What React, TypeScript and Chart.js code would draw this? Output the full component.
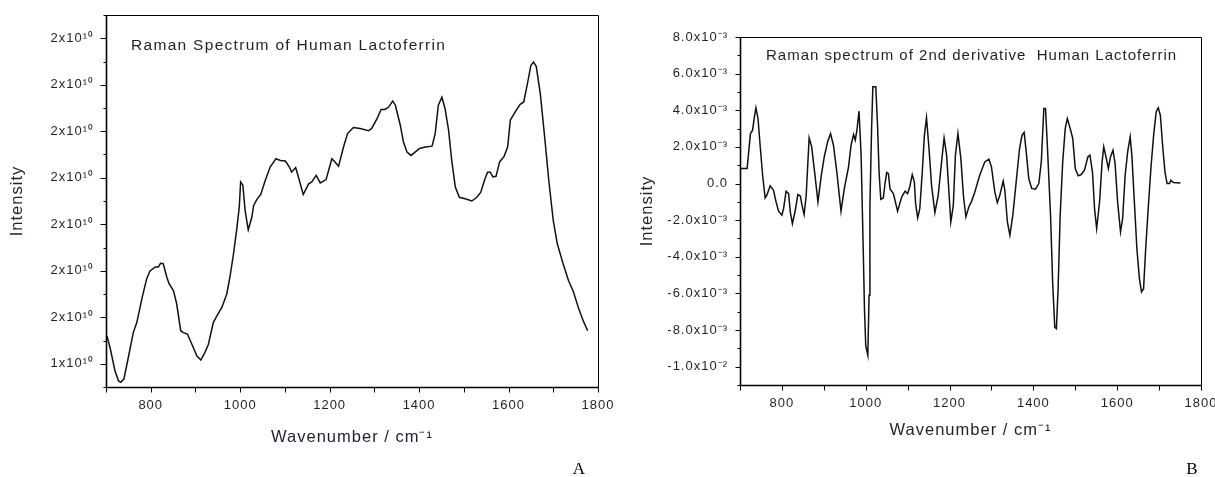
import React, { useEffect, useRef } from "react";
import { Chart, registerables } from "chart.js";

Chart.register(...registerables);

// ---------- Panel A: Raman spectrum (intensity in units of 1e10) ----------
const wavenumbersA = [
  702, 709, 720, 728, 733, 740, 750, 761, 769, 780, 791, 798, 810, 817, 822, 828, 836, 841, 851, 858,
  867, 873, 882, 892, 903, 912, 921, 929, 940, 948, 959, 970, 977, 985, 992, 998, 1001, 1006, 1011, 1018,
  1026, 1030, 1037, 1046, 1056, 1067, 1080, 1090, 1101, 1110, 1115, 1124, 1130, 1141, 1153, 1160, 1170, 1179, 1192, 1205,
  1212, 1220, 1231, 1240, 1253, 1268, 1287, 1294, 1306, 1315, 1324, 1332, 1341, 1347, 1358, 1365, 1373, 1382, 1391, 1401,
  1414, 1429, 1436, 1443, 1451, 1458, 1466, 1473, 1481, 1490, 1503, 1518, 1529, 1538, 1546, 1553, 1559, 1565, 1572, 1580,
  1590, 1598, 1604, 1617, 1626, 1634, 1643, 1650, 1656, 1662, 1671, 1680, 1690, 1700, 1709, 1722, 1734, 1745, 1757, 1768,
  1777,
];
const intensityA = [
  1.46, 1.435, 1.385, 1.363, 1.36, 1.367, 1.414, 1.467, 1.489, 1.539, 1.583, 1.599, 1.608, 1.608, 1.616, 1.615, 1.586, 1.572, 1.557, 1.529,
  1.471, 1.467, 1.464, 1.442, 1.417, 1.408, 1.424, 1.442, 1.489, 1.503, 1.521, 1.55, 1.586, 1.636, 1.687, 1.737, 1.791, 1.784, 1.73, 1.688,
  1.715, 1.74, 1.753, 1.764, 1.794, 1.823, 1.841, 1.837, 1.836, 1.823, 1.812, 1.822, 1.802, 1.764, 1.787, 1.791, 1.805, 1.789, 1.796, 1.841,
  1.834, 1.825, 1.866, 1.895, 1.908, 1.906, 1.901, 1.906, 1.927, 1.947, 1.947, 1.952, 1.965, 1.956, 1.913, 1.877, 1.855, 1.848, 1.855, 1.863,
  1.866, 1.868, 1.895, 1.956, 1.973, 1.949, 1.902, 1.837, 1.78, 1.758, 1.755, 1.75, 1.758, 1.769, 1.794, 1.812, 1.812, 1.802, 1.803, 1.834,
  1.846, 1.866, 1.924, 1.945, 1.958, 1.963, 2.006, 2.042, 2.049, 2.039, 1.981, 1.895, 1.794, 1.708, 1.658, 1.615, 1.579, 1.555, 1.518, 1.49,
  1.471,
];

// ---------- Panel B: 2nd derivative (units of 1e-3) ----------
const wavenumbersB = [
  702, 717, 720, 725, 730, 735, 738, 743, 748, 754, 760, 764, 772, 780, 786, 792, 800, 804, 810, 816,
  820, 825, 832, 838, 844, 848, 853, 858, 862, 865, 871, 878, 886, 894, 901, 909, 916, 923, 931, 941,
  949, 959, 965, 971, 975, 979, 984, 989, 994, 997, 1000, 1005, 1008, 1010, 1014, 1017, 1024, 1028, 1032, 1036,
  1042, 1046, 1050, 1054, 1058, 1066, 1076, 1086, 1094, 1100, 1105, 1111, 1116, 1119, 1124, 1129, 1135, 1140, 1145, 1151,
  1157, 1165, 1173, 1181, 1187, 1193, 1198, 1203, 1209, 1214, 1220, 1227, 1233, 1239, 1246, 1252, 1260, 1272, 1284, 1294,
  1300, 1308, 1314, 1320, 1328, 1332, 1338, 1344, 1351, 1359, 1367, 1373, 1378, 1383, 1389, 1396, 1405, 1413, 1419, 1425,
  1429, 1433, 1441, 1446, 1451, 1455, 1459, 1464, 1470, 1476, 1481, 1488, 1494, 1500, 1507, 1514, 1522, 1530, 1535, 1541,
  1546, 1551, 1558, 1564, 1568, 1574, 1579, 1584, 1590, 1595, 1601, 1608, 1613, 1619, 1625, 1631, 1635, 1641, 1647, 1653,
  1658, 1663, 1668, 1674, 1681, 1687, 1693, 1698, 1703, 1709, 1714, 1719, 1725, 1728, 1734, 1751,
];
const derivativeB = [
  0.82, 0.82, 1.55, 2.73, 2.91, 3.73, 4.13, 3.55, 2.09, 0.45, -0.79, -0.64, -0.13, -0.37, -1.0, -1.51, -1.73, -1.37, -0.42, -0.55,
  -1.55, -2.19, -1.46, -0.6, -0.68, -1.19, -1.69, -0.64, 1.18, 2.49, 2.0, 0.64, -1.0, 0.45, 1.45, 2.27, 2.73, 2.09, 0.64, -1.51,
  -0.27, 0.91, 2.09, 2.68, 2.37, 2.91, 3.95, 1.55, -3.55, -6.83, -8.84, -9.38, -6.1, -1.19, 3.0, 5.28, 5.28, 3.28, 0.55, -0.86,
  -0.79, 0.0, 0.6, 0.55, -0.3, -0.55, -1.51, -0.73, -0.42, -0.55, -0.18, 0.49, 0.09, -1.09, -1.88, -1.37, 0.64, 2.64, 3.59, 1.91,
  -0.09, -1.59, -0.64, 1.18, 2.49, 1.55, -0.27, -2.1, -1.19, 1.55, 2.73, 1.37, -0.64, -1.82, -1.28, -1.0, -0.49, 0.45, 1.18, 1.33,
  0.91, -0.46, -1.04, -0.64, 0.13, -0.37, -2.1, -2.82, -1.73, 0.09, 1.91, 2.64, 2.79, 1.73, 0.27, -0.27, -0.31, 0.0, 1.2, 4.1,
  4.1, 2.27, -1.73, -5.38, -7.84, -7.92, -5.74, -1.73, 1.18, 3.0, 3.55, 3.0, 2.46, 0.82, 0.42, 0.49, 0.73, 1.45, 1.55, 0.64,
  -1.37, -2.46, -1.0, 1.18, 2.0, 1.37, 0.82, 1.45, 1.82, 1.09, -1.0, -2.64, -1.91, 0.45, 1.73, 2.55, 1.55, -1.0, -3.55, -5.19,
  -5.92, -5.74, -3.55, -1.37, 1.0, 2.64, 3.91, 4.13, 3.73, 1.91, 0.64, 0.0, 0.0, 0.18, 0.05, 0.03,
];

// ---------- Axis ticks and labels ----------
const xMajorTicks = [800, 1000, 1200, 1400, 1600, 1800];
const xMinorTicks = [700, 900, 1100, 1300, 1500, 1700];
const xTickLabels = ["800", "1000", "1200", "1400", "1600", "1800"];

const yMajorTicksA = [1.4, 1.5, 1.6, 1.7, 1.8, 1.9, 2.0, 2.1];
const yMinorTicksA = [1.35, 1.45, 1.55, 1.65, 1.75, 1.85, 1.95, 2.05, 2.15];
const yTickLabelsA = ["1x10¹⁰", "2x10¹⁰", "2x10¹⁰", "2x10¹⁰", "2x10¹⁰", "2x10¹⁰", "2x10¹⁰", "2x10¹⁰"];

const yMajorTicksB = [8, 6, 4, 2, 0, -2, -4, -6, -8, -10];
const yMinorTicksB = [7, 5, 3, 1, -1, -3, -5, -7, -9, -11];
const yTickLabelsB = [
  "8.0x10⁻³", "6.0x10⁻³", "4.0x10⁻³", "2.0x10⁻³", "0.0",
  "-2.0x10⁻³", "-4.0x10⁻³", "-6.0x10⁻³", "-8.0x10⁻³", "-1.0x10⁻²",
];

const titleA = "Raman Spectrum of Human Lactoferrin";
const titleB = "Raman spectrum of 2nd derivative  Human Lactoferrin";
const xAxisTitle = "Wavenumber / cm⁻¹";
const yAxisTitle = "Intensity";

const SANS = "'Liberation Sans', Arial, Helvetica, sans-serif";
const SERIF = "'Liberation Serif', 'Times New Roman', serif";
const TEXT_COLOR = "#1f1f2e";

type PanelSpec = {
  left: number;
  width: number;
  height: number;
  xs: number[];
  ys: number[];
  yMin: number;
  yMax: number;
  yMajor: number[];
  yMinor: number[];
  yLabels: string[];
  yAxisWidth: number;
  xAxisHeight: number;
  padTop: number;
  padRight: number;
  yTickLen: number;
  yLabelPad: number;
  yTitlePad: number;
  xTitlePad: number;
  title: string;
  titleX: number;
  titleY: number;
  titleSize: number;
  titleSpacing: number;
  panelLabel: string;
  panelLabelX: number;
};

const panels: PanelSpec[] = [
  {
    left: 0, width: 615, height: 477,
    xs: wavenumbersA, ys: intensityA,
    yMin: 1.35, yMax: 2.15,
    yMajor: yMajorTicksA, yMinor: yMinorTicksA, yLabels: yTickLabelsA,
    yAxisWidth: 106, xAxisHeight: 90, padTop: 15, padRight: 17,
    yTickLen: 6, yLabelPad: 6, yTitlePad: 7.5, xTitlePad: 29.5,
    title: titleA, titleX: 131, titleY: 49.5, titleSize: 15.5, titleSpacing: 1.3,
    panelLabel: "A", panelLabelX: 579,
  },
  {
    left: 615, width: 600, height: 477,
    xs: wavenumbersB, ys: derivativeB,
    yMin: -11, yMax: 8,
    yMajor: yMajorTicksB, yMinor: yMinorTicksB, yLabels: yTickLabelsB,
    yAxisWidth: 125, xAxisHeight: 92, padTop: 37, padRight: 14,
    yTickLen: 5, yLabelPad: 7, yTitlePad: 22.5, xTitlePad: 36.5,
    title: titleB, titleX: 151, titleY: 59.5, titleSize: 15, titleSpacing: 1.0,
    panelLabel: "B", panelLabelX: 577,
  },
];

function findLabel(ticks: number[], labels: string[], v: number): string {
  const i = ticks.findIndex((t) => Math.abs(t - v) < 1e-9);
  return i >= 0 ? labels[i] : "";
}

function makeDecorPlugin(p: PanelSpec) {
  return {
    id: "decor" + p.panelLabel,
    beforeUpdate(chart: any) {
      (chart.ctx as any).letterSpacing = "1px";
    },
    beforeDraw(chart: any) {
      (chart.ctx as any).letterSpacing = "1px";
    },
    afterDraw(chart: any) {
      const ctx = chart.ctx as CanvasRenderingContext2D;
      const ca = chart.chartArea;
      const xs = chart.scales.x;
      const ys = chart.scales.y;
      ctx.save();
      ctx.strokeStyle = "#000";
      ctx.lineWidth = 1;
      const L = Math.round(ca.left) + 0.5;
      const T = Math.round(ca.top) + 0.5;
      const R = Math.round(ca.right) + 0.5;
      const B = Math.round(ca.bottom) + 0.5;
      ctx.beginPath();
      ctx.rect(L, T, R - L, B - T);
      ctx.stroke();
      // slightly heavier left and bottom axes
      ctx.lineWidth = 1.6;
      ctx.beginPath();
      ctx.moveTo(L, T);
      ctx.lineTo(L, B);
      ctx.lineTo(R, B);
      ctx.stroke();
      ctx.lineWidth = 1;
      ctx.beginPath();
      for (const v of [...xMajorTicks, ...xMinorTicks]) {
        const px = Math.round(xs.getPixelForValue(v)) + 0.5;
        ctx.moveTo(px, B);
        ctx.lineTo(px, B + 5);
      }
      for (const v of p.yMajor) {
        const py = Math.round(ys.getPixelForValue(v)) + 0.5;
        ctx.moveTo(L, py);
        ctx.lineTo(L - p.yTickLen, py);
      }
      for (const v of p.yMinor) {
        const py = Math.round(ys.getPixelForValue(v)) + 0.5;
        ctx.moveTo(L, py);
        ctx.lineTo(L - 3, py);
      }
      ctx.stroke();

      (ctx as any).letterSpacing = p.titleSpacing + "px";
      ctx.fillStyle = TEXT_COLOR;
      ctx.font = `${p.titleSize}px ${SANS}`;
      ctx.textAlign = "left";
      ctx.textBaseline = "alphabetic";
      ctx.fillText(p.title, p.titleX, p.titleY);

      (ctx as any).letterSpacing = "0px";
      ctx.fillStyle = "#000";
      ctx.font = `17px ${SERIF}`;
      ctx.textAlign = "center";
      ctx.fillText(p.panelLabel, p.panelLabelX, 474);
      ctx.restore();
    },
  };
}

function buildConfig(p: PanelSpec): any {
  const points = p.xs.map((x, i) => ({ x, y: p.ys[i] }));
  const tickFont = { family: SANS, size: 13 };
  const titleFont = { family: SANS, size: 16.5 };
  return {
    type: "line",
    data: {
      datasets: [
        {
          data: points,
          borderColor: "#111",
          borderWidth: 1.5,
          pointRadius: 0,
          tension: 0,
          fill: false,
        },
      ],
    },
    options: {
      responsive: false,
      animation: false,
      events: [],
      layout: { padding: { left: 0, right: p.padRight, top: p.padTop, bottom: 0 } },
      plugins: { legend: { display: false }, tooltip: { enabled: false } },
      scales: {
        x: {
          type: "linear",
          min: 700,
          max: 1800,
          afterBuildTicks: (s: any) => {
            s.ticks = [...xMinorTicks, ...xMajorTicks].sort((a, b) => a - b).map((v) => ({ value: v }));
          },
          afterFit: (s: any) => {
            s.height = p.xAxisHeight;
            s.paddingLeft = 0;
            s.paddingRight = 0;
          },
          ticks: {
            autoSkip: false,
            maxRotation: 0,
            padding: 6,
            color: TEXT_COLOR,
            font: tickFont,
            callback: (v: number) => findLabel(xMajorTicks, xTickLabels, v),
          },
          grid: { display: true, drawOnChartArea: false, drawTicks: true, tickLength: 5, color: "rgba(0,0,0,0)" },
          border: { display: false },
          title: {
            display: true,
            text: xAxisTitle,
            color: TEXT_COLOR,
            font: titleFont,
            padding: { top: 0, bottom: p.xTitlePad },
          },
        },
        y: {
          type: "linear",
          min: p.yMin,
          max: p.yMax,
          afterBuildTicks: (s: any) => {
            s.ticks = [...p.yMinor, ...p.yMajor].sort((a, b) => a - b).map((v) => ({ value: v }));
          },
          afterFit: (s: any) => {
            s.width = p.yAxisWidth;
            s.paddingTop = 0;
            s.paddingBottom = 0;
          },
          ticks: {
            autoSkip: false,
            padding: p.yLabelPad,
            color: TEXT_COLOR,
            font: tickFont,
            callback: (v: number) => findLabel(p.yMajor, p.yLabels, v),
          },
          grid: { display: true, drawOnChartArea: false, drawTicks: true, tickLength: p.yTickLen, color: "rgba(0,0,0,0)" },
          border: { display: false },
          title: {
            display: true,
            text: yAxisTitle,
            color: TEXT_COLOR,
            font: titleFont,
            padding: { top: p.yTitlePad, bottom: 0 },
          },
        },
      },
    },
    plugins: [makeDecorPlugin(p)],
  };
}

function Panel({ spec }: { spec: PanelSpec }) {
  const ref = useRef<HTMLCanvasElement>(null);
  useEffect(() => {
    if (!ref.current) return;
    const chart = new Chart(ref.current, buildConfig(spec));
    return () => chart.destroy();
  }, [spec]);
  return (
    <canvas
      ref={ref}
      width={spec.width}
      height={spec.height}
      style={{ position: "absolute", left: spec.left, top: 0, width: spec.width, height: spec.height }}
    />
  );
}

export default function App() {
  return (
    <div style={{ position: "absolute", left: 0, top: 0, width: 1215, height: 477, background: "#fff", overflow: "hidden" }}>
      {panels.map((p) => (
        <Panel key={p.panelLabel} spec={p} />
      ))}
    </div>
  );
}
